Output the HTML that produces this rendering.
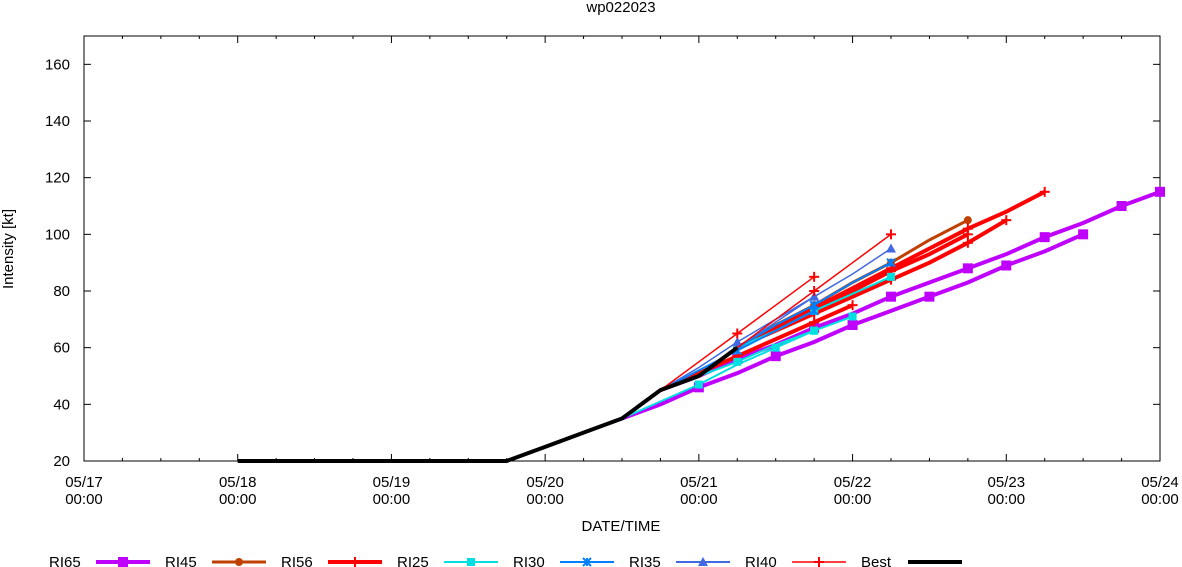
<!DOCTYPE html>
<html><head><meta charset="utf-8"><style>
body{margin:0;background:#fff;}
svg{display:block;font-family:"Liberation Sans","DejaVu Sans",sans-serif;}
</style></head><body>
<svg id="chart" width="1182" height="567" xmlns="http://www.w3.org/2000/svg">
<g id="axes"></g>
<g id="series"></g>
<g id="legend"></g>
</svg>
<script>
const yTicks=[20,40,60,80,100,120,140,160];
const xTickHours=[0,24,48,72,96,120,144,168];
const xTickDates=["05/17","05/18","05/19","05/20","05/21","05/22","05/23","05/24"];
const xTickTimes=["00:00","00:00","00:00","00:00","00:00","00:00","00:00","00:00"];
// best track: hours and values
const bestHours=[24,30,36,42,48,54,60,66,72,78,84,90,96,102];
const bestVals=[20,20,20,20,20,20,20,20,25,30,35,45,50,60];
// forecasts: base hour + values every 6h
const ri65=[{b:84,v:[35,40,46,51,57,62,68,73,78,83,89,94,100]},
            {b:90,v:[45,50,56,61,67,72,78,83,88,93,99,104,110,115]}];
const ri45=[{b:102,v:[60,68,75,83,90,98,105]}];
const ri56=[{b:90,v:[45,51,57,63,69,75]},
            {b:102,v:[60,67,73,80,87,93,100]},
            {b:102,v:[60,66,72,78,84,90,97,105]},
            {b:102,v:[60,67,74,81,88,95,102,108,115]}];
const ri25=[{b:84,v:[35,41,47,54,60,66]},{b:90,v:[45,50,55,61,66,71]},{b:102,v:[60,66,73,79,85]}];
const ri30=[{b:90,v:[45,52,59,66,73]},{b:102,v:[60,68,75,83,90]}];
const ri35=[{b:90,v:[45,53,62,70,78]},{b:102,v:[60,69,78,86,95]}];
const ri40=[{b:90,v:[45,55,65,75,85]},{b:102,v:[60,70,80,90,100]}];

const L=84,R=1160,T=36,B=461,YMIN=20,YMAX=170,HMAX=168;
const xs=h=>L+h*(R-L)/HMAX;
const ys=v=>B-(v-YMIN)*(B-T)/(YMAX-YMIN);
const NS="http://www.w3.org/2000/svg";
function mk(tag,attrs,parent){const e=document.createElementNS(NS,tag);for(const k in attrs)e.setAttribute(k,attrs[k]);parent.appendChild(e);return e;}
const ax=document.getElementById('axes');
const frame=mk('rect',{x:L,y:T,width:R-L,height:B-T,fill:'none',stroke:'#000','stroke-width':1},ax);


yTicks.forEach(v=>{
  const y=ys(v);
  mk('line',{x1:L,x2:L+7,y1:y,y2:y,stroke:'#000'},ax);
  mk('line',{x1:R,x2:R-7,y1:y,y2:y,stroke:'#000'},ax);
  const t=mk('text',{x:L-14,y:y+5,'text-anchor':'end','font-size':15},ax);t.textContent=v;
  
  
});
xTickHours.forEach((h,i)=>{
  const x=xs(h);
  mk('line',{x1:x,x2:x,y1:B,y2:B-7,stroke:'#000'},ax);
  mk('line',{x1:x,x2:x,y1:T,y2:T+7,stroke:'#000'},ax);
  const t=mk('text',{x:x,y:487,'text-anchor':'middle','font-size':15},ax);t.textContent=xTickDates[i];
  
  
  const t2=mk('text',{x:x,y:504,'text-anchor':'middle','font-size':15},ax);t2.textContent=xTickTimes[i];
  
  
});
for(let h=6;h<HMAX;h+=6){if(h%24){const x=xs(h);mk('line',{x1:x,x2:x,y1:B,y2:B-3,stroke:'#000'},ax);mk('line',{x1:x,x2:x,y1:T,y2:T+3,stroke:'#000'},ax);}}
const title=mk('text',{x:621,y:12,'text-anchor':'middle','font-size':15},ax);title.textContent='wp022023';


const xt=mk('text',{x:621,y:531,'text-anchor':'middle','font-size':15},ax);xt.textContent='DATE/TIME';


const yt=mk('text',{x:0,y:0,'text-anchor':'middle','font-size':15,transform:'translate(13,249) rotate(-90)'},ax);yt.textContent='Intensity [kt]';



function marker(g,type,x,y,c,s){
  if(type==='sq')mk('rect',{x:x-s,y:y-s,width:2*s,height:2*s,fill:c},g);
  else if(type==='circ')mk('circle',{cx:x,cy:y,r:s,fill:c},g);
  else if(type==='plus'){mk('line',{x1:x-s,x2:x+s,y1:y,y2:y,stroke:c,'stroke-width':2},g);mk('line',{x1:x,x2:x,y1:y-s,y2:y+s,stroke:c,'stroke-width':2},g);}
  else if(type==='star'){mk('path',{d:`M${x-s} ${y-s}L${x+s} ${y+s}M${x-s} ${y+s}L${x+s} ${y-s}M${x} ${y-s}L${x} ${y+s}`,stroke:c,'stroke-width':2,fill:'none'},g);}
  else if(type==='tri')mk('polygon',{points:`${x},${y-s} ${x-s},${y+s*0.8} ${x+s},${y+s*0.8}`,fill:c},g);
}
const styles=[
 {name:'ri65',data:ri65,c:'#c000ff',w:4,m:'sq',s:5},
 {name:'ri45',data:ri45,c:'#c04000',w:3,m:'circ',s:4},
 {name:'ri56',data:ri56,c:'#ff0000',w:4,m:'plus',s:5},
 {name:'ri25',data:ri25,c:'#00e0e0',w:2,m:'sq',s:4},
 {name:'ri30',data:ri30,c:'#0080ff',w:2,m:'star',s:4},
 {name:'ri35',data:ri35,c:'#4169e1',w:1.5,m:'tri',s:5},
 {name:'ri40',data:ri40,c:'#ff0000',w:1.5,m:'plus',s:5}
];
const sg=document.getElementById('series');
styles.forEach(st=>{
  st.data.forEach((f,fi)=>{
    const g=mk('g',{},sg);
    
    
    const pts=f.v.map((v,i)=>xs(f.b+6*i)+','+ys(v)).join(' ');
    mk('polyline',{points:pts,fill:'none',stroke:st.c,'stroke-width':st.w},g);
    f.v.forEach((v,i)=>{if(i>0&&(i%2===0||i===f.v.length-1))marker(g,st.m,xs(f.b+6*i),ys(v),st.c,st.s);});
  });
});
const bg=mk('g',{},sg);


mk('polyline',{points:bestHours.map((h,i)=>xs(h)+','+ys(bestVals[i])).join(' '),fill:'none',stroke:'#000','stroke-width':4},bg);

const lg=document.getElementById('legend');
const entries=[['RI65','#c000ff',4,'sq',5],['RI45','#c04000',3,'circ',4],['RI56','#ff0000',4,'plus',5],['RI25','#00e0e0',2,'sq',4],['RI30','#0080ff',2,'star',4],['RI35','#4169e1',2,'tri',5],['RI40','#ff0000',1.5,'plus',5],['Best','#000',4,null,0]];
const lx=[49,165,281,397,513,629,745,861];
entries.forEach((e,i)=>{
  const g=mk('g',{},lg);
  
  
  const t=mk('text',{x:lx[i],y:567,'font-size':15},g);t.textContent=e[0];
  const x0=lx[i]+47,x1=x0+54,y=562;
  mk('line',{x1:x0,x2:x1,y1:y,y2:y,stroke:e[1],'stroke-width':e[2]},g);
  if(e[3])marker(g,e[3],(x0+x1)/2,y,e[1],e[4]);
});
</script>
</body></html>
